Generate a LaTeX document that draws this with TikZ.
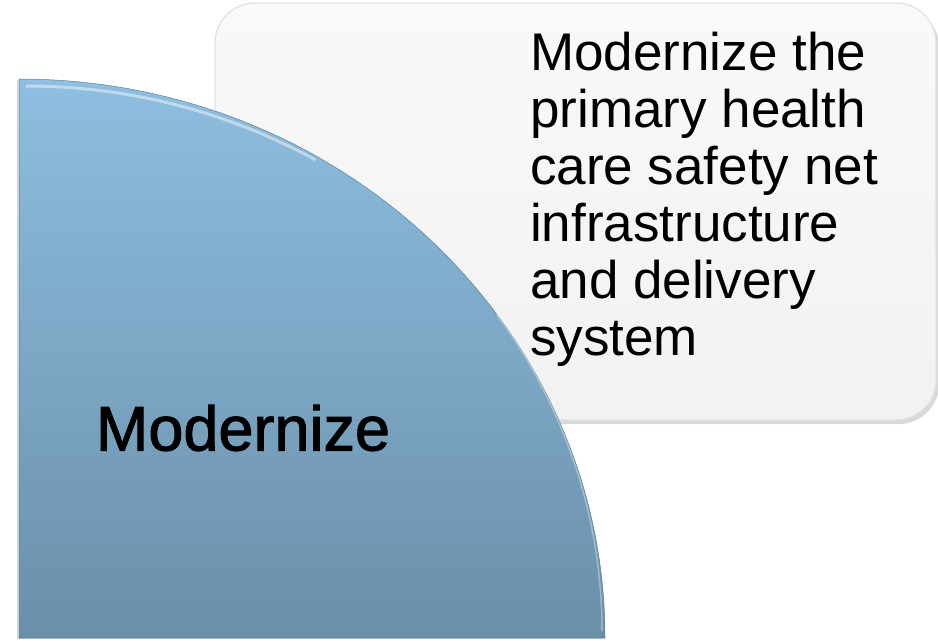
\documentclass[tikz,border=0pt]{standalone}
\usepackage{fontspec}
\setmainfont{Liberation Sans}
\newfontfamily\heavyfont[FakeBold=1.6]{Liberation Sans}
\usetikzlibrary{shadows}
\definecolor{boxfill}{HTML}{F5F5F5}
\definecolor{boxline}{HTML}{DDE2E8}
\definecolor{pietop}{HTML}{8EBEE0}
\definecolor{piebot}{HTML}{6A8FA9}
\tikzset{
  card/.style={draw=boxline, line width=1.2pt, rounded corners=40pt, top color=boxfill!60!white, bottom color=boxfill!97!gray,
    drop shadow={shadow xshift=3pt, shadow yshift=-4pt, opacity=0.3, fill=gray}},
  pie/.style={draw=piebot!90!black, line width=0.5pt, top color=pietop, bottom color=piebot,
    drop shadow={shadow xshift=-2pt, shadow yshift=-1pt, opacity=0.3, fill=gray}},
  bigtext/.style={font=\heavyfont\fontsize{63}{70}\selectfont, text=black, inner sep=0pt},
  bodytext/.style={font=\fontsize{53}{57}\selectfont, text=black, inner sep=0pt, align=left},
}
\begin{document}
\begin{tikzpicture}[x=1pt,y=1pt]
\useasboundingbox (0,0) rectangle (938,-641);
% card
\path[card] (215,-3) rectangle (936,-420);
% quarter circle
\path[pie] (19,-638) -- (19,-79) arc[start angle=90, end angle=0, x radius=586, y radius=559] -- cycle;
% bevel highlight
\draw[white, opacity=0.45, line width=3pt] (26,-86) arc[start angle=90, end angle=60, x radius=579, y radius=552];
\draw[white, opacity=0.35, line width=1.5pt] (602,-631) arc[start angle=0, end angle=35, x radius=583, y radius=552];
\node[bodytext, anchor=north west] (desc) at (530,-32) {Modernize the\\primary health\\care safety net\\infrastructure\\and delivery\\system};
\node[bigtext] (title) at (243,-428) {Modernize};
\end{tikzpicture}
\end{document}
